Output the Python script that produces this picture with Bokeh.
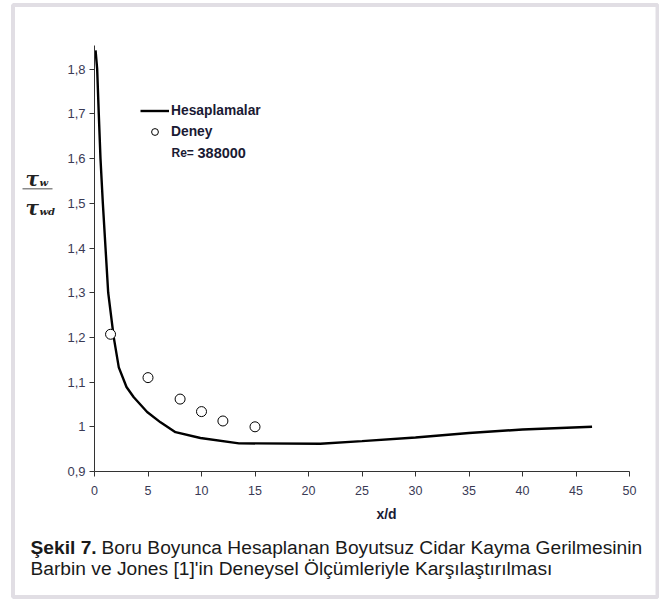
from bokeh.plotting import figure
from bokeh.models import (ColumnDataSource, FixedTicker, Label, Legend, LegendItem,
                          BoxAnnotation, Range1d)
from bokeh.embed import file_html
from bokeh.resources import INLINE

# Calculated wall shear stress ratio along the pipe (Hesaplamalar)
x_calc = [0.1, 0.25, 0.4, 0.56, 0.78, 1.03, 1.28, 1.8, 2.27, 2.99, 3.67, 4.92,
          6.17, 7.57, 9.9, 13.5, 21.1, 25, 30, 35, 40, 46.5]
y_calc = [1.842, 1.80, 1.70, 1.60, 1.50, 1.40, 1.30, 1.20, 1.133, 1.089, 1.066,
          1.033, 1.010, 0.988, 0.975, 0.963, 0.962, 0.968, 0.976, 0.986, 0.994, 1.0]

# Barbin & Jones measurements (Deney)
x_exp = [1.5, 5, 8, 10, 12, 15]
y_exp = [1.207, 1.110, 1.062, 1.034, 1.013, 1.000]

x_ticks = [0, 5, 10, 15, 20, 25, 30, 35, 40, 45, 50]
y_ticks = [0.9, 1.0, 1.1, 1.2, 1.3, 1.4, 1.5, 1.6, 1.7, 1.8]
y_tick_labels = ["0,9", "1", "1,1", "1,2", "1,3", "1,4", "1,5", "1,6", "1,7", "1,8"]

W, H = 659, 599
# plotting area inside the page, in page pixels
AX_L, AX_R, AX_T, AX_B = 94, 629, 45, 471
X0, X1 = 0, 50
Y0 = 0.9
PX_X = (AX_R - AX_L) / (X1 - X0)
PX_Y = 447.0
Y1 = Y0 + (AX_B - AX_T) / PX_Y


def dx(px):
    return X0 + (px - AX_L) / PX_X


def dy(py):
    return Y0 + (AX_B - py) / PX_Y


# The frame spans the whole page; the axes are pinned at x=0 / y=0.9
p = figure(width=W, height=H, output_backend="svg", toolbar_location=None,
           x_range=Range1d(dx(0), dx(W)), y_range=Range1d(dy(H), dy(0)),
           min_border=0)
p.outline_line_color = None
p.xgrid.visible = False
p.ygrid.visible = False
p.background_fill_color = "white"
p.border_fill_color = "white"

tick_color = "#3a3a55"
axis_color = "#333333"
for ax in (p.xaxis[0], p.yaxis[0]):
    ax.axis_line_color = axis_color
    ax.major_tick_line_color = axis_color
    ax.minor_tick_line_color = None
    ax.major_tick_in = 0
    ax.major_tick_out = 5
    ax.major_label_text_font = "Liberation Sans"
    ax.major_label_text_color = tick_color

p.xaxis.major_label_text_font_size = "12.5px"
p.yaxis.major_label_text_font_size = "13px"
p.xaxis.fixed_location = Y0
p.xaxis.bounds = (X0, X1)
p.yaxis.fixed_location = X0
p.yaxis.bounds = (Y0, Y1)
p.xaxis.ticker = FixedTicker(ticks=x_ticks)
p.yaxis.ticker = FixedTicker(ticks=y_ticks)
p.yaxis.major_label_overrides = {t: s for t, s in zip(y_ticks, y_tick_labels)}
p.xaxis.major_label_standoff = 9
p.yaxis.major_label_standoff = 4

src_calc = ColumnDataSource(dict(x=x_calc, y=y_calc))
src_exp = ColumnDataSource(dict(x=x_exp, y=y_exp))

line_r = p.line("x", "y", source=src_calc, line_color="black", line_width=2.4)
pts_r = p.scatter("x", "y", source=src_exp, marker="circle", size=10,
                  fill_color="white", line_color="black", line_width=1)

legend = Legend(items=[LegendItem(label="Hesaplamalar", renderers=[line_r]),
                       LegendItem(label="Deney", renderers=[pts_r])],
                location=(140, H - 139.5), orientation="vertical",
                glyph_width=29, glyph_height=17, label_height=17,
                label_standoff=2, spacing=4, padding=0, margin=0,
                border_line_color=None, background_fill_alpha=0,
                label_text_font="Liberation Sans", label_text_font_style="bold",
                label_text_font_size="13.8px", label_text_color="#1a1a33")
p.add_layout(legend)

txt = dict(text_font="Liberation Sans", text_font_style="bold", text_color="#1a1a33")
p.add_layout(Label(x=dx(171), y=dy(152), text="Re=", text_font_size="12px",
                   text_baseline="middle", **txt))
p.add_layout(Label(x=dx(197), y=dy(152), text="388000", text_font_size="14.5px",
                   text_baseline="middle", **txt))

# x-axis title
p.add_layout(Label(x=dx(386), y=dy(513), text="x/d", text_font_size="14px",
                   text_align="center", text_baseline="middle", **txt))

# y-axis title as a fraction  tau_w / tau_wd
serif = dict(text_font="DejaVu Serif", text_font_style="bold italic",
             text_color="#222222", text_baseline="middle")
p.add_layout(Label(x=dx(25), y=dy(178), text="τ", text_font_size="20px", **serif))
p.add_layout(Label(x=dx(39), y=dy(182), text="w", text_font_size="10px", **serif))
p.add_layout(BoxAnnotation(left=dx(22), right=dx(52), top=dy(187.5), bottom=dy(189),
                           fill_color="#8a8a8a", fill_alpha=1, line_color=None,
                           level="overlay"))
p.add_layout(Label(x=dx(25), y=dy(207), text="τ", text_font_size="20px", **serif))
p.add_layout(Label(x=dx(39), y=dy(211), text="wd", text_font_size="10px", **serif))

# caption
cap = dict(text_font="Liberation Sans", text_font_size="19.2px", text_color="#1a1a1a",
           text_baseline="alphabetic")
p.add_layout(Label(x=dx(30), y=dy(547), text="Şekil 7.", text_font_style="bold", **cap))
p.add_layout(Label(x=dx(101), y=dy(547),
                   text="Boru Boyunca Hesaplanan Boyutsuz Cidar Kayma Gerilmesinin", **cap))
p.add_layout(Label(x=dx(30), y=dy(568),
                   text="Barbin ve Jones [1]'in Deneysel Ölçümleriyle Karşılaştırılması", **cap))

# page border
p.add_layout(BoxAnnotation(left=dx(12.5), right=dx(657), top=dy(4.5), bottom=dy(596.5),
                           fill_alpha=0, line_color="#9b91a6", line_width=4,
                           level="overlay"))

open("out.html", "w").write(file_html(p, INLINE))
